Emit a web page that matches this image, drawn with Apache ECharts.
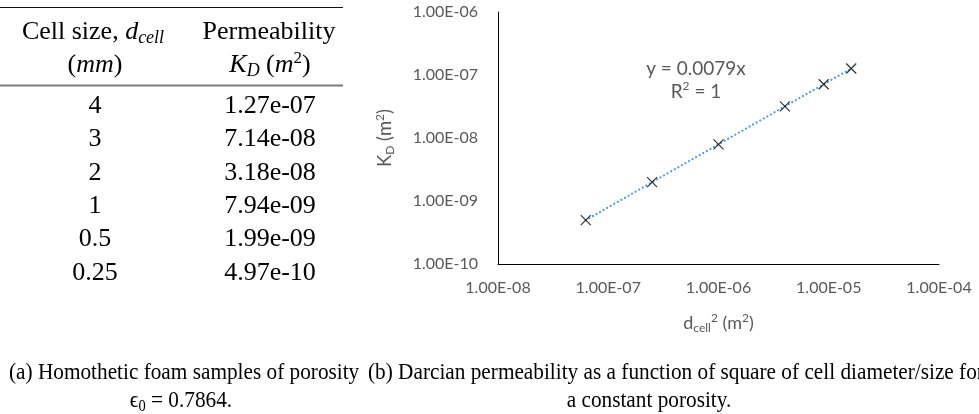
<!DOCTYPE html>
<html>
<head>
<meta charset="utf-8">
<script src="https://cdn.jsdelivr.net/npm/echarts@6/dist/echarts.min.js"></script>
<style>
html,body{margin:0;padding:0;background:#fff;}
#chart{width:979px;height:414px;}
</style>
</head>
<body>
<div id="chart"></div>
<script>
// ---- data ----
const cellSizesMM = ['4', '3', '2', '1', '0.5', '0.25'];
const permeabilityLabels = ['1.27e-07', '7.14e-08', '3.18e-08', '7.94e-09', '1.99e-09', '4.97e-10'];
const dCellSquared = [1.6e-5, 9e-6, 4e-6, 1e-6, 2.5e-7, 6.25e-8];   // m^2
const permeability = [1.27e-7, 7.14e-8, 3.18e-8, 7.94e-9, 1.99e-9, 4.97e-10]; // m^2
const xTickLabels = ['1.00E-08', '1.00E-07', '1.00E-06', '1.00E-05', '1.00E-04'];
const yTickLabels = ['1.00E-10', '1.00E-09', '1.00E-08', '1.00E-07', '1.00E-06'];
const trendEquation = 'y = 0.0079x';
const trendR2 = '1';

// ---- build ----
const serif = '"Liberation Serif", "DejaVu Serif", serif';
const sans = 'Lato, "Open Sans", sans-serif';
const grey = '#595959';
const points = dCellSquared.map((x, i) => [x, permeability[i]]);
const trend = points.slice().sort((a, b) => a[0] - b[0]);

const T = 26; // table font size
const richTable = {
  i: { fontFamily: serif, fontSize: T, fontStyle: 'italic', fill: '#000', lineHeight: 30 },
  sub: { fontFamily: serif, fontSize: 18, fontStyle: 'italic', fill: '#000', lineHeight: 18, verticalAlign: 'bottom' },
  sup: { fontFamily: serif, fontSize: 17, fill: '#000', lineHeight: 16, verticalAlign: 'top' }
};
function tText(x, y, text, rich) {
  return {
    type: 'text', x: x, y: y, silent: true,
    style: {
      text: text, fontFamily: serif, fontSize: T, fill: '#000',
      align: 'center', verticalAlign: 'middle', lineHeight: 30,
      rich: rich || undefined
    }
  };
}
const graphics = [];
// rules
graphics.push({ type: 'line', silent: true, shape: { x1: 0, y1: 7.5, x2: 343, y2: 7.5 }, style: { stroke: '#111', lineWidth: 1.2 } });
graphics.push({ type: 'line', silent: true, shape: { x1: 0, y1: 85.5, x2: 343, y2: 85.5 }, style: { stroke: '#7a7a7a', lineWidth: 2.2 } });
// header
graphics.push(tText(93, 32, 'Cell size, {i|d}{sub|cell}', richTable));
graphics.push(tText(269, 32, 'Permeability'));
graphics.push(tText(95, 65, '({i|mm})', richTable));
graphics.push(tText(270, 65, '{i|K}{sub|D} ({i|m}{sup|2})', richTable));
// rows
cellSizesMM.forEach((c, i) => {
  const y = 106 + 33.4 * i;
  graphics.push(tText(95, y, c));
  graphics.push(tText(270, y, permeabilityLabels[i]));
});
// captions
const C = 23.5, CS = 0.905;
function cap(x, y, text, align, rich) {
  return {
    type: 'text', x: x, y: y, scaleX: CS, silent: true,
    style: { text: text, fontFamily: serif, fontSize: C, fill: '#000', align: align, verticalAlign: 'middle', lineHeight: 28, rich: rich || undefined }
  };
}
graphics.push(cap(9, 373, '(a) Homothetic foam samples of porosity', 'left'));
graphics.push(cap(181, 401, '{e|\u03f5}{s|0} = 0.7864.', 'center', {
  e: { fontFamily: serif, fontSize: C, fill: '#000', lineHeight: 28 },
  s: { fontFamily: serif, fontSize: 16, fill: '#000', lineHeight: 18, verticalAlign: 'bottom' }
}));
graphics.push(cap(368, 373, '(b) Darcian permeability as a function of square of cell diameter/size for', 'left'));
graphics.push(cap(649, 401, 'a constant porosity.', 'center'));
// trendline label
graphics.push({
  type: 'text', x: 696, y: 69, silent: true,
  style: { text: trendEquation, fontFamily: sans, fontSize: 19, fill: grey, align: 'center', verticalAlign: 'middle' }
});
graphics.push({
  type: 'text', x: 696, y: 92, silent: true,
  style: {
    text: 'R{sup|2} = ' + trendR2, fontFamily: sans, fontSize: 19, fill: grey, align: 'center', verticalAlign: 'middle', lineHeight: 24,
    rich: { sup: { fontFamily: sans, fontSize: 12, fill: grey, lineHeight: 14, verticalAlign: 'top' } }
  }
});

const axisRich = {
  sub: { fontFamily: sans, fontSize: 12, color: grey, lineHeight: 13, verticalAlign: 'bottom' },
  sup: { fontFamily: sans, fontSize: 12, color: grey, lineHeight: 13, verticalAlign: 'top' }
};

const chart = echarts.init(document.getElementById('chart'), null, { renderer: 'canvas' });
chart.setOption({
  animation: false,
  backgroundColor: '#fff',
  grid: { left: 498, top: 12, width: 441, height: 252 },
  xAxis: {
    type: 'log', logBase: 10, min: 1e-8, max: 1e-4,
    name: 'd{sub|cell}{sup|2} (m{sup|2})',
    nameLocation: 'middle', nameGap: 48,
    nameTextStyle: { fontFamily: sans, fontSize: 18, color: grey, lineHeight: 22, rich: axisRich },
    axisLine: { show: true, lineStyle: { color: '#000', width: 1 } },
    axisTick: { show: false },
    splitLine: { show: false },
    minorTick: { show: false },
    axisLabel: {
      color: grey, fontFamily: sans, fontSize: 16, margin: 16,
      formatter: v => xTickLabels[Math.round(Math.log10(v)) + 8] || ''
    }
  },
  yAxis: {
    type: 'log', logBase: 10, min: 1e-10, max: 1e-6,
    name: 'K{sub|D} (m{sup|2})',
    nameLocation: 'middle', nameGap: 102, nameRotate: 90,
    nameTextStyle: { fontFamily: sans, fontSize: 18.5, color: grey, lineHeight: 22, rich: axisRich },
    axisLine: { show: true, lineStyle: { color: '#000', width: 1 } },
    axisTick: { show: false },
    splitLine: { show: false },
    axisLabel: {
      color: grey, fontFamily: sans, fontSize: 16, margin: 20,
      formatter: v => yTickLabels[Math.round(Math.log10(v)) + 10] || ''
    }
  },
  series: [
    {
      type: 'line', data: trend, symbol: 'none', silent: true,
      lineStyle: { color: '#5B9BD5', width: 2.2, type: [0.1, 4], cap: 'round' },
      z: 1
    },
    {
      type: 'scatter', data: points, silent: true,
      symbol: 'path://M0,0L10,10M10,0L0,10', symbolSize: 10,
      itemStyle: { color: 'none', borderColor: '#000', borderWidth: 1.2 },
      z: 2
    }
  ],
  graphic: graphics
});
</script>
</body>
</html>
